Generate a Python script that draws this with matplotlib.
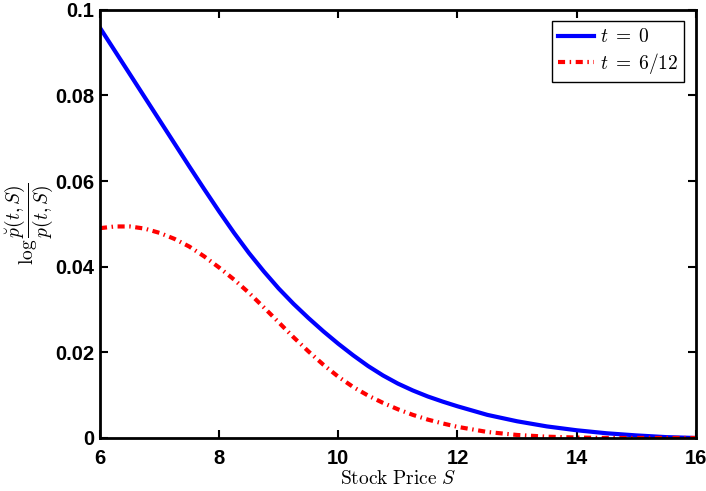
import matplotlib
matplotlib.use("Agg")
import matplotlib.pyplot as plt
import numpy as np

plt.rcParams['mathtext.fontset'] = 'cm'

# values
stock_price = [6.0, 6.25, 6.5, 6.75, 7.0, 7.25, 7.5, 7.75, 8.0, 8.25, 8.5,
               8.75, 9.0, 9.25, 9.5, 9.75, 10.0, 10.25, 10.5, 10.75, 11.0,
               11.25, 11.5, 11.75, 12.0, 12.5, 13.0, 13.5, 14.0, 14.5, 15.0,
               15.5, 16.0]
log_ratio_t0 = [0.0958, 0.0904, 0.0850, 0.0796, 0.0742, 0.0688, 0.0634,
                0.0581, 0.0529, 0.0479, 0.0432, 0.0389, 0.0349, 0.0313,
                0.0280, 0.0249, 0.0220, 0.0193, 0.0168, 0.0146, 0.0127,
                0.0111, 0.0097, 0.0085, 0.0074, 0.0054, 0.0039, 0.0027,
                0.0018, 0.0011, 0.0006, 0.0002, 0.0000]
log_ratio_t6 = [0.0490, 0.0494, 0.0494, 0.0489, 0.0479, 0.0465, 0.0447,
                0.0424, 0.0398, 0.0370, 0.0339, 0.0305, 0.0270, 0.0235,
                0.0202, 0.0171, 0.0143, 0.0119, 0.0099, 0.0082, 0.0067,
                0.0054, 0.0043, 0.0034, 0.0026, 0.0014, 0.0007, 0.0003,
                0.0001, 0.0000, 0.0000, 0.0000, 0.0000]
xticks = [6, 8, 10, 12, 14, 16]
yticks = [0, 0.02, 0.04, 0.06, 0.08, 0.1]
yticklabels = ['0', '0.02', '0.04', '0.06', '0.08', '0.1']

fig = plt.figure(figsize=(7.06, 4.91), dpi=100)
ax = fig.add_axes([0.1416, 0.108, 0.844, 0.872])

ax.plot(stock_price, log_ratio_t0, color='#0000ff', lw=3, label=r'$t\;=\;0$')
ax.plot(stock_price, log_ratio_t6, color='#ff0000', lw=3,
        dashes=(1.7, 1.1, 0.35, 1.1), label=r'$t\;=\;6/12$')

ax.set_xlim(6, 16)
ax.set_ylim(0, 0.1)
ax.set_xticks(xticks)
ax.set_yticks(yticks)
ax.set_yticklabels(yticklabels)
for lab in ax.get_xticklabels() + ax.get_yticklabels():
    lab.set_fontfamily('Liberation Sans')
    lab.set_fontweight('bold')
    lab.set_fontsize(14.5)
ax.tick_params(direction='in', length=6, width=1.5, top=True, right=True)
ax.tick_params(axis='x', pad=8)
ax.tick_params(axis='y', pad=4)
for sp in ax.spines.values():
    sp.set_linewidth(2)

ax.set_xlabel(r'$\mathrm{Stock\ Price}\ S$', fontsize=14, labelpad=1)
ax.set_ylabel(r'$\log\dfrac{\breve{p}(t,S)}{p(t,S)}$', fontsize=14, labelpad=0)

leg = ax.legend(loc='upper right', fontsize=14, fancybox=False, framealpha=1,
                edgecolor='black', borderaxespad=0.6, handlelength=1.85,
                borderpad=0.3, labelspacing=0.25, handletextpad=0.3)
leg.get_frame().set_linewidth(1)

fig.savefig('out.png', dpi=100)
